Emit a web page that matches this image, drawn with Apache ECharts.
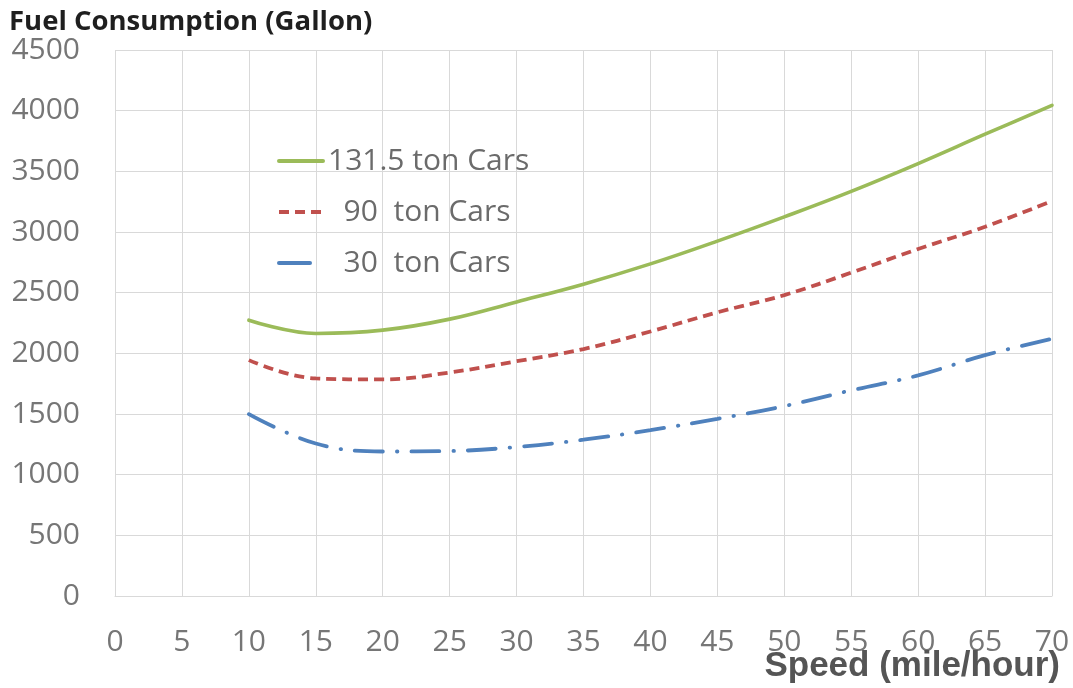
<!DOCTYPE html>
<html><head><meta charset="utf-8">
<script src="https://cdn.jsdelivr.net/npm/echarts@6/dist/echarts.min.js"></script>
<style>html,body{margin:0;padding:0;background:#fff}#c{width:1073px;height:688px}</style>
</head><body><div id="c"></div>
<script>
const speeds = [10, 15, 20, 25, 30, 35, 40, 45, 50, 55, 60, 65, 70];
const cars131 = [2273, 2164, 2191, 2282, 2424, 2570, 2737, 2925, 3125, 3335, 3564, 3806, 4044];
const cars90  = [1944, 1793, 1785, 1842, 1935, 2035, 2180, 2338, 2480, 2665, 2860, 3043, 3256];
const cars30  = [1499, 1257, 1191, 1195, 1228, 1288, 1367, 1460, 1565, 1695, 1818, 1985, 2120];
const seriesNames = ['131.5 ton Cars', '  90  ton Cars', '  30  ton Cars'];
const xTicks = {min: 0, max: 70, step: 5};
const yTicks = {min: 0, max: 4500, step: 500};
const yTitle = 'Fuel Consumption (Gallon)';
const xTitle = 'Speed (mile/hour)';

const pair = arr => speeds.map((s, i) => [s, arr[i]]);
const chart = echarts.init(document.getElementById('c'), null, {renderer: 'canvas'});
const font = '"Open Sans", "Noto Sans", sans-serif';
const grid = '#d9d9d9';
chart.setOption({
  animation: false,
  backgroundColor: '#fff',
  title: [
    {text: yTitle, left: 9, top: 8, padding: 0,
      textStyle: {fontFamily: font, fontWeight: 'bold', fontSize: 27.5, color: '#1f1f1f'}},
    {text: xTitle, right: 13, top: 649, padding: 0,
      textStyle: {fontFamily: '"Liberation Sans", Arial, sans-serif', fontWeight: 'bold', fontSize: 35, color: '#555'}}
  ],
  grid: {left: 115, right: 21, top: 50, bottom: 92, containLabel: false, outerBoundsMode: 'none'},
  legend: {orient: 'vertical', left: 277, top: 146, padding: 0, itemWidth: 44, itemHeight: 14, itemGap: 21,
    itemStyle: {opacity: 0},
    textStyle: {fontFamily: font, fontSize: 30, color: '#6b6b6b'},
    data: [
      {name: seriesNames[0], lineStyle: {width: 4}},
      {name: seriesNames[1], lineStyle: {width: 4}},
      {name: seriesNames[2], lineStyle: {width: 4, type: [31, 40]}}
    ]},
  xAxis: {type: 'value', min: xTicks.min, max: xTicks.max, interval: xTicks.step,
    axisLine: {show: true, lineStyle: {color: grid, width: 1}},
    axisTick: {show: false},
    splitLine: {show: true, lineStyle: {color: grid, width: 1}},
    axisLabel: {fontFamily: font, fontSize: 30, color: '#767676', margin: 31}},
  yAxis: {type: 'value', min: yTicks.min, max: yTicks.max, interval: yTicks.step,
    axisLine: {show: false}, axisTick: {show: false},
    splitLine: {show: true, lineStyle: {color: grid, width: 1}},
    axisLabel: {fontFamily: font, fontSize: 30, color: '#767676', margin: 35, formatter: v => String(v)}},
  series: [
    {name: seriesNames[0], type: 'line', data: pair(cars131), smooth: 0.4, symbol: 'none', color: '#9bbb59',
      lineStyle: {width: 3.6, color: '#9bbb59', cap: 'round'}},
    {name: seriesNames[1], type: 'line', data: pair(cars90), smooth: 0.4, symbol: 'none', color: '#c0504d',
      lineStyle: {width: 3.8, color: '#c0504d', type: [10, 6]}},
    {name: seriesNames[2], type: 'line', data: pair(cars30), smooth: 0.4, symbol: 'none', color: '#4f81bd',
      lineStyle: {width: 3.8, color: '#4f81bd', type: [28, 14, 0.5, 14], cap: 'round'}}
  ]
});
</script></body></html>
